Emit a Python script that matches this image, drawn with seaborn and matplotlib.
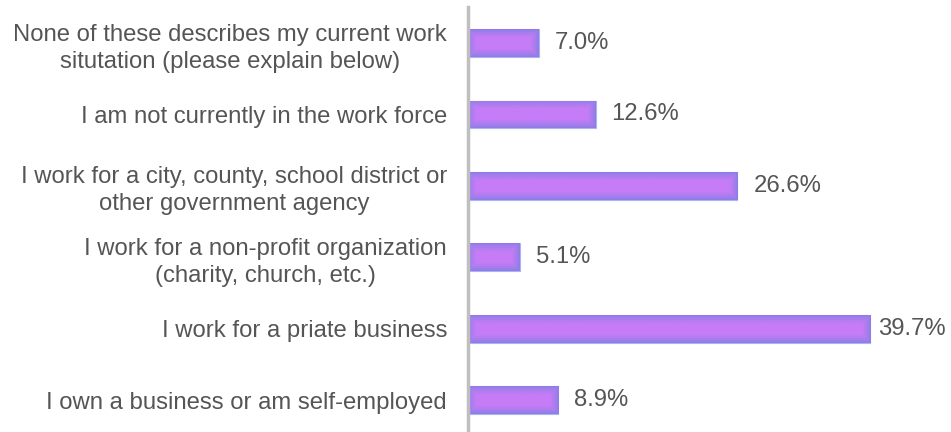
import numpy as np
import pandas as pd
import matplotlib
matplotlib.use("Agg")
import matplotlib.pyplot as plt
import seaborn as sns
from matplotlib.colors import to_rgb
from matplotlib.transforms import offset_copy

categories = [
    "None of these describes my current work\nsitutation (please explain below)",
    "I am not currently in the work force",
    "I work for a city, county, school district or\nother government agency",
    "I work for a non-profit organization\n(charity, church, etc.)",
    "I work for a priate business",
    "I own a business or am self-employed",
]
shares = [7.0, 12.6, 26.6, 5.1, 39.7, 8.9]
value_labels = ["7.0%", "12.6%", "26.6%", "5.1%", "39.7%", "8.9%"]

df = pd.DataFrame({"category": categories, "share": shares})

sns.set_theme(style="white")
plt.rcParams["font.family"] = ["Liberation Sans", "DejaVu Sans"]

FS = 17.2
TEXT = "#555555"

fig = plt.figure(figsize=(9.51, 4.32), dpi=100)
ax = fig.add_axes([0.492, -0.0087, 0.458, 0.9917])

sns.barplot(data=df, x="share", y="category", orient="h", ax=ax,
            color="#b27cf2", width=0.39, edgecolor="#a9b4f2", linewidth=0.8,
            zorder=2)

ax.set_xlim(0, 43.0)
ax.set_ylim(5.5, -0.5)

# path gradient fill: pink-violet body, blue-violet rim a few pixels wide
centre = np.array(to_rgb("#c67cf6"))
edge = np.array(to_rgb("#8a7ee6"))
fig.canvas.draw()
for patch in ax.patches:
    x0, y0 = patch.get_x(), patch.get_y()
    w, h = patch.get_width(), patch.get_height()
    bb = patch.get_window_extent()
    npx_w, npx_h = max(int(bb.width), 2), max(int(bb.height), 2)
    xs = np.arange(npx_w) + 0.5
    ys = np.arange(npx_h) + 0.5
    X, Y = np.meshgrid(xs, ys)
    d = np.minimum(np.minimum(X, npx_w - X), np.minimum(Y, npx_h - Y))
    t = np.clip(1 - d / 9.0, 0, 1) ** 1.3
    grad = centre[None, None, :] * (1 - t[..., None]) + edge[None, None, :] * t[..., None]
    im = ax.imshow(grad, extent=[x0, x0 + w, y0 + h, y0], aspect="auto",
                   interpolation="bilinear", zorder=2.5)
    im.set_clip_path(patch)

ax.set_xlim(0, 43.0)
ax.set_ylim(5.5, -0.5)

# value labels just past each bar end, kept inside the figure
label_tf = offset_copy(ax.transData, fig=fig, x=11.5, y=0, units="points")
texts = []
for i, (val, lab) in enumerate(zip(shares, value_labels)):
    texts.append(ax.text(val, i, lab, va="center", ha="left", fontsize=FS,
                         color=TEXT, transform=label_tf))

ax.set_xlabel("")
ax.set_ylabel("")
ax.set_xticks([])
ax.tick_params(axis="y", length=0, pad=15, labelsize=FS, labelcolor=TEXT)
for lbl in ax.get_yticklabels():
    lbl.set_multialignment("center")
    lbl.set_linespacing(1.3)

for side in ["top", "right", "bottom"]:
    ax.spines[side].set_visible(False)
ax.spines["left"].set_color("#bfbfbf")
ax.spines["left"].set_linewidth(2.5)
ax.spines["left"].set_zorder(3)

fig.canvas.draw()
renderer = fig.canvas.get_renderer()
fig_w = fig.bbox.width
for txt in texts:
    bb = txt.get_window_extent(renderer)
    over = bb.x1 - (fig_w - 5)
    if over > 0:
        txt.set_transform(offset_copy(txt.get_transform(), fig=fig,
                                      x=-over, y=0, units="dots"))

fig.savefig("out.png", dpi=100, facecolor="white")
